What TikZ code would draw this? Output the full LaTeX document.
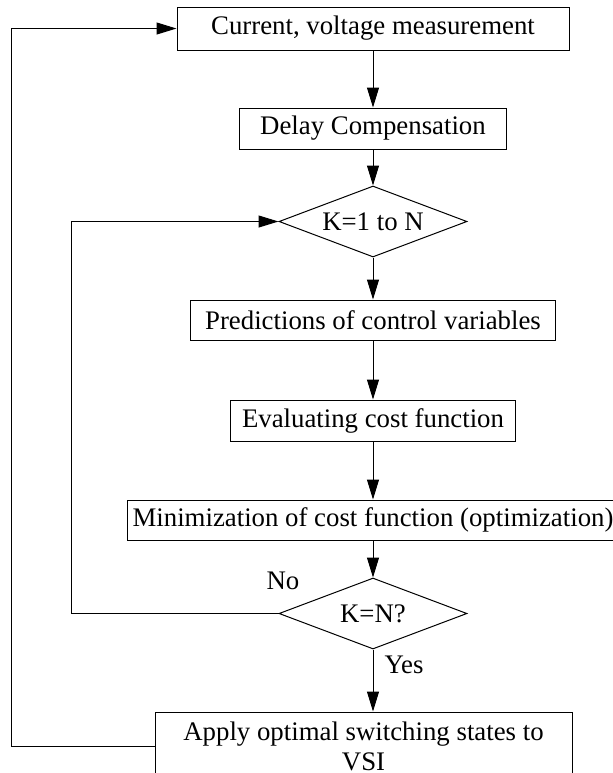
\documentclass[tikz,border=0pt]{standalone}
\usepackage{fontspec}
\setmainfont{Liberation Serif}
\usetikzlibrary{arrows.meta, positioning, shapes.geometric}

\begin{document}
\begin{tikzpicture}[
    x=0.5pt, y=-0.5pt,
    every node/.style = {font=\fontsize{13.4}{15}\selectfont},
    box/.style  = {rectangle, draw, line width=0.5pt, minimum height=20.5pt,
                   inner sep=2pt, align=center},
    dec/.style  = {diamond, draw, line width=0.5pt, aspect=2.6, inner sep=0pt,
                   minimum width=94pt, minimum height=35.5pt},
    arr/.style  = {-{Triangle[length=10pt, width=6pt]}, line width=0.5pt},
    lbl/.style  = {inner sep=0pt},
]
\useasboundingbox (0,0) rectangle (613,773);

%% ---- main column ----
\node[box, minimum width=196pt, minimum height=21.5pt] (meas) at (373,28.5)
    {Current, voltage measurement};
\node[box, minimum width=133.5pt, below=28.5pt of meas] (delay)
    {Delay Compensation};
\node[dec, below=18pt of delay] (loop) {K=1 to N};
\node[box, minimum width=182.5pt, minimum height=20pt, below=21pt of loop] (pred)
    {Predictions of control variables};
\node[box, minimum width=142.5pt, below=29.5pt of pred] (cost)
    {Evaluating cost function};
\node[box, minimum width=246pt, minimum height=20pt, below=29pt of cost] (mini)
    {Minimization of cost function (optimization)};
\node[dec, below=18.5pt of mini] (check) {K=N?};
\node[box, minimum width=208.5pt, minimum height=34pt, below=31pt of check,
      xshift=-4.75pt] (apply)
    {Apply optimal switching states to\\VSI};

%% ---- arrows ----
\draw[arr] (meas)  -- (delay);
\draw[arr] (delay) -- (loop);
\draw[arr] (loop)  -- (pred);
\draw[arr] (pred)  -- (cost);
\draw[arr] (cost)  -- (mini);
\draw[arr] (mini)  -- (check);
\draw[arr] (check.south) -- (check.south |- apply.north);

%% ---- loops back ----
\draw[arr] (check.west) -- ++(-207,0) |- (loop.west);
\draw[arr] (apply.west) -- ++(-143,0) |- (meas.west);

%% ---- labels ----
\node[lbl] (no)  at (283,581) {No};
\node[lbl] (yes) at (404,665) {Yes};

\end{tikzpicture}
\end{document}
